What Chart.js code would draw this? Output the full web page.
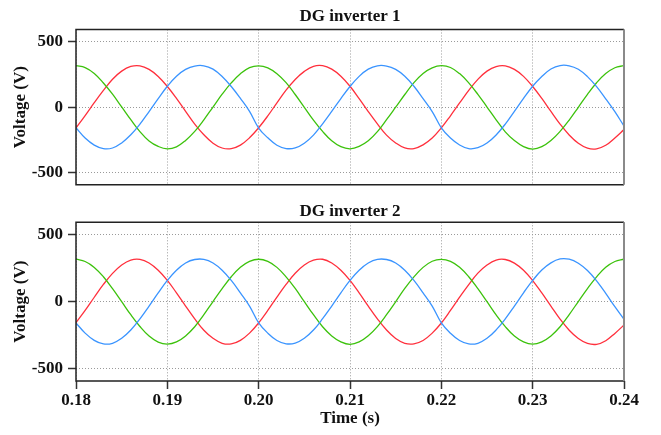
<!DOCTYPE html>
<html>
<head>
<meta charset="utf-8">
<script src="https://cdn.jsdelivr.net/npm/chart.js@4.4.1/dist/chart.umd.min.js"></script>
<style>
  body { margin: 0; background: #fff; }
  .box { position: absolute; left: 0; width: 661px; }
  #top { top: 0; height: 200px; }
  #bot { top: 200px; height: 235px; }
</style>
</head>
<body>
<div class="box" id="top"><canvas id="chart1"></canvas></div>
<div class="box" id="bot"><canvas id="chart2"></canvas></div>
<script>
// sample times (s), 1 ms apart
const time = [
  0.180, 0.181, 0.182, 0.183, 0.184, 0.185, 0.186, 0.187, 0.188, 0.189,
  0.190, 0.191, 0.192, 0.193, 0.194, 0.195, 0.196, 0.197, 0.198, 0.199,
  0.200, 0.201, 0.202, 0.203, 0.204, 0.205, 0.206, 0.207, 0.208, 0.209,
  0.210, 0.211, 0.212, 0.213, 0.214, 0.215, 0.216, 0.217, 0.218, 0.219,
  0.220, 0.221, 0.222, 0.223, 0.224, 0.225, 0.226, 0.227, 0.228, 0.229,
  0.230, 0.231, 0.232, 0.233, 0.234, 0.235, 0.236, 0.237, 0.238, 0.239,
  0.240
];

// DG inverter 1 phase voltages (V)
const inv1Red = [
  -160, -65, 34, 128, 214, 276, 312, 317, 289, 235, 158, 67, -32, -130, -212, -276, -313, -318, -291, -235,
  -158, -67, 33, 130, 212, 274, 313, 318, 291, 237, 160, 65, -34, -128, -214, -274, -312, -317, -289, -237,
  -159, -66, 32, 129, 213, 276, 311, 316, 289, 236, 158, 67, -33, -130, -213, -277, -314, -319, -292, -236,
  -172
];
const inv1Green = [
  318, 303, 258, 185, 99, 2, -96, -188, -259, -301, -320, -304, -255, -186, -97, 1, 99, 186, 256, 303,
  317, 301, 256, 188, 97, -1, -99, -186, -258, -303, -319, -301, -258, -188, -96, 0, 97, 188, 258, 301,
  318, 304, 257, 186, 98, 1, -97, -189, -256, -302, -321, -303, -256, -186, -99, -1, 98, 187, 257, 302,
  318
];
const inv1Blue = [
  -158, -237, -291, -318, -313, -274, -212, -130, -34, 65, 160, 237, 289, 315, 317, 291, 235, 158, 67, -32,
  -160, -235, -292, -317, -312, -276, -214, -128, -33, 66, 158, 236, 291, 317, 315, 289, 237, 160, 65, -34,
  -158, -237, -290, -318, -311, -275, -213, -130, -32, 67, 160, 235, 292, 319, 317, 290, 234, 157, 64, -35,
  -145
];

// DG inverter 2 phase voltages (V)
const inv2Red = [
  -158, -66, 33, 129, 212, 275, 312, 317, 290, 236, 160, 66, -33, -129, -214, -275, -312, -317, -290, -236,
  -159, -66, 34, 129, 213, 275, 311, 318, 290, 235, 159, 66, -33, -129, -213, -276, -312, -316, -291, -236,
  -160, -66, 33, 128, 214, 275, 312, 316, 289, 235, 158, 65, -34, -131, -214, -276, -313, -320, -293, -238,
  -175
];
const inv2Green = [
  319, 301, 257, 187, 97, 0, -98, -186, -258, -303, -318, -302, -257, -188, -98, 1, 97, 187, 258, 302,
  318, 302, 257, 186, 99, 0, -98, -188, -257, -301, -320, -302, -256, -187, -98, -1, 99, 186, 257, 303,
  317, 302, 258, 187, 97, 0, -99, -187, -258, -302, -319, -301, -257, -188, -97, 1, 98, 186, 258, 301,
  318
];
const inv2Blue = [
  -160, -236, -290, -317, -312, -275, -213, -129, -33, 66, 159, 236, 290, 316, 317, 290, 236, 159, 66, -33,
  -159, -236, -291, -316, -311, -275, -213, -128, -33, 66, 160, 236, 290, 317, 316, 290, 236, 159, 66, -33,
  -159, -237, -291, -317, -312, -275, -212, -129, -33, 66, 159, 237, 291, 320, 318, 288, 233, 156, 62, -38,
  -132
];

const timeTicks = [0.18, 0.19, 0.20, 0.21, 0.22, 0.23, 0.24];
const voltTicks = [-500, 0, 500];

const font = { family: '"Liberation Serif", "Times New Roman", serif', size: 17, weight: 'bold' };

// box around the plot area
const frame = {
  id: 'frame',
  afterDatasetsDraw(chart) {
    const { ctx, chartArea: a } = chart;
    ctx.save();
    ctx.strokeStyle = '#222';
    ctx.lineWidth = 1.5;
    ctx.beginPath();
    ctx.moveTo(a.right, a.top);
    ctx.lineTo(a.left, a.top);
    ctx.lineTo(a.left, a.bottom);
    ctx.lineTo(a.right, a.bottom);
    ctx.stroke();
    ctx.strokeStyle = '#8a8a8a';
    ctx.lineWidth = 2;
    ctx.beginPath();
    ctx.moveTo(a.right, a.top);
    ctx.lineTo(a.right, a.bottom);
    ctx.stroke();
    ctx.restore();
  }
};

function points(vals) {
  return time.map((t, i) => ({ x: t, y: vals[i] }));
}

function line(vals, color) {
  return {
    data: points(vals),
    borderColor: color,
    borderWidth: 1.3,
    pointRadius: 0,
    tension: 0.4,
    fill: false
  };
}

function makeChart(id, title, red, green, blue, bottom) {
  return new Chart(document.getElementById(id), {
    type: 'line',
    data: {
      datasets: [
        line(blue, '#3a94ff'),
        line(green, '#3cc20c'),
        line(red, '#ff2f3c')
      ]
    },
    options: {
      responsive: true,
      maintainAspectRatio: false,
      animation: false,
      layout: { padding: { left: 0, right: 37, top: 0, bottom: bottom ? 0 : 12 } },
      plugins: {
        legend: { display: false },
        tooltip: { enabled: false },
        title: {
          display: true,
          text: title,
          fullSize: false,
          color: '#111',
          font: font,
          padding: bottom ? { top: 1.3, bottom: 0.6 } : { top: 6.6, bottom: 2.5 }
        }
      },
      scales: {
        x: {
          type: 'linear',
          min: 0.18,
          max: 0.24,
          afterBuildTicks: s => { s.ticks = timeTicks.map(v => ({ value: v })); },
          afterFit: s => { s.height = bottom ? 54 : 0; },
          ticks: {
            display: bottom,
            color: '#111',
            font: font,
            padding: 1,
            maxRotation: 0,
            autoSkip: false,
            callback: v => v.toFixed(2)
          },
          grid: {
            color: '#9a9a9a',
            drawTicks: bottom,
            tickLength: 8,
            tickColor: '#333',
            tickWidth: 1.5,
            tickBorderDash: []
          },
          border: { display: false, dash: [1, 2] },
          title: {
            display: bottom,
            text: 'Time (s)',
            color: '#111',
            font: font,
            padding: { top: 0, bottom: 6.5 }
          }
        },
        y: {
          min: -595,
          max: 595,
          afterBuildTicks: s => { s.ticks = voltTicks.map(v => ({ value: v })); },
          afterFit: s => { s.width = 76; },
          ticks: { color: '#111', font: font, padding: 5, callback: v => String(v) },
          grid: {
            color: '#9a9a9a',
            tickLength: 8,
            tickColor: '#333',
            tickWidth: 1.5,
            tickBorderDash: []
          },
          border: { display: false, dash: [1, 2] },
          title: {
            display: true,
            text: 'Voltage (V)',
            color: '#111',
            font: font,
            padding: { top: 10.5, bottom: 0 }
          }
        }
      }
    },
    plugins: [frame]
  });
}

makeChart('chart1', 'DG inverter 1', inv1Red, inv1Green, inv1Blue, false);
makeChart('chart2', 'DG inverter 2', inv2Red, inv2Green, inv2Blue, true);
</script>
</body>
</html>
